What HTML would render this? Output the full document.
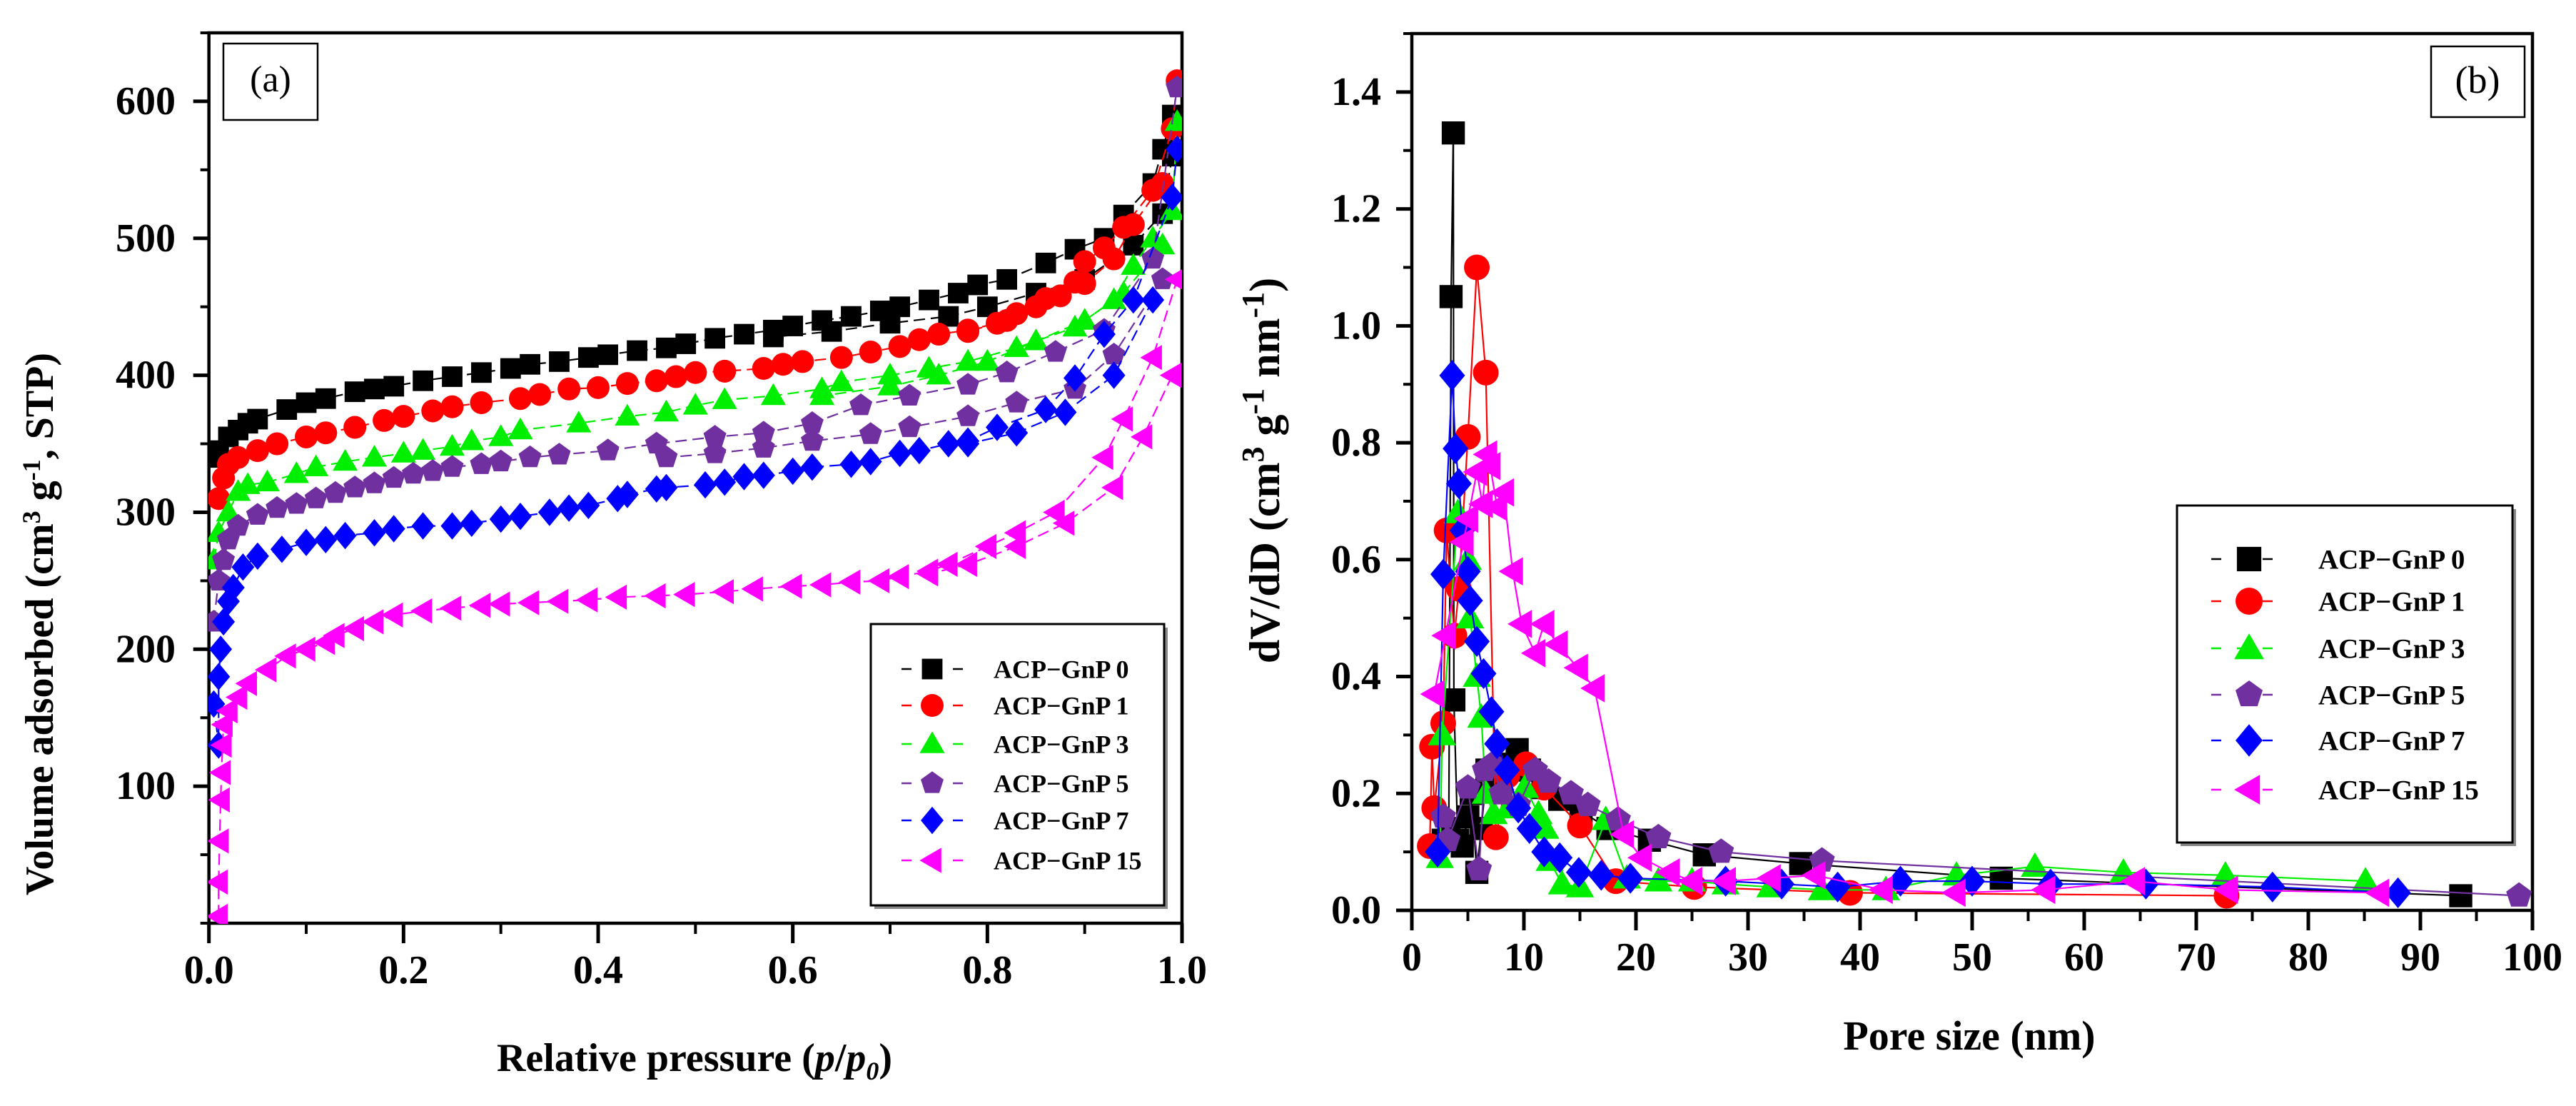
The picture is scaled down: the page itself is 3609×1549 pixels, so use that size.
<!DOCTYPE html>
<html><head><meta charset="utf-8"><style>
html,body{margin:0;padding:0;background:#fff;}
svg{display:block;font-family:"Liberation Serif",serif;}
text{font-family:"Liberation Serif",serif;}
</style></head><body>
<svg id="fig" width="3609" height="1549" viewBox="0 0 3609 1549" xmlns="http://www.w3.org/2000/svg" font-family="Liberation Serif, serif">
<defs>
<clipPath id="clipL"><rect x="292" y="46" width="1364" height="1248"/></clipPath>
<clipPath id="clipR"><rect x="1978" y="46" width="1570" height="1230"/></clipPath>
</defs>
<g id="panelA"></g>
<g id="panelB"></g>
</svg>
<script>
// ---------- Panel (a) data: isotherms [relative pressure, volume] ----------
const a0Ads = [[0.005,340],[0.01,345],[0.02,355],[0.03,360],[0.04,365],[0.05,368],[0.08,375],[0.1,380],[0.12,383],[0.15,388],[0.17,390],[0.19,392],[0.22,396],[0.25,399],[0.28,402],[0.31,405],[0.33,408],[0.36,410],[0.39,413],[0.41,415],[0.44,418],[0.47,420],[0.49,423],[0.52,427],[0.55,430],[0.58,433],[0.6,436],[0.63,440],[0.66,443],[0.69,447],[0.71,450],[0.74,455],[0.77,460],[0.79,466],[0.82,470],[0.86,482],[0.89,492],[0.92,500],[0.94,517],[0.97,540],[0.98,565],[0.99,590]];
const a0Des = [[0.99,560],[0.98,518],[0.95,495],[0.9,470],[0.85,460],[0.8,450],[0.76,443],[0.7,438],[0.64,432],[0.58,428]];
const a1Ads = [[0.01,310],[0.015,325],[0.02,335],[0.03,340],[0.05,345],[0.07,350],[0.1,355],[0.12,358],[0.15,362],[0.18,367],[0.2,370],[0.23,374],[0.25,377],[0.28,380],[0.32,383],[0.34,386],[0.37,390],[0.4,391],[0.43,394],[0.46,396],[0.48,399],[0.5,402],[0.53,403],[0.57,405],[0.59,408],[0.61,410],[0.65,413],[0.68,417],[0.71,421],[0.73,426],[0.75,430],[0.78,433],[0.81,438],[0.83,445],[0.86,456],[0.89,468],[0.9,483],[0.92,493],[0.94,508],[0.97,535],[0.99,580],[0.995,615]];
const a1Des = [[0.98,540],[0.95,510],[0.93,485],[0.9,467],[0.875,458],[0.85,450],[0.82,440],[0.78,432]];
const a3Ads = [[0.005,265],[0.01,285],[0.02,300],[0.03,315],[0.04,320],[0.06,322],[0.09,328],[0.11,333],[0.14,337],[0.17,340],[0.2,343],[0.22,345],[0.25,348],[0.27,352],[0.3,355],[0.32,360],[0.38,365],[0.43,370],[0.47,373],[0.5,378],[0.53,382],[0.58,385],[0.63,390],[0.65,395],[0.7,400],[0.74,405],[0.78,410],[0.83,420],[0.89,435],[0.93,455],[0.95,480],[0.97,500],[0.99,520],[0.995,585]];
const a3Des = [[0.98,495],[0.94,460],[0.9,440],[0.85,425],[0.8,410],[0.75,400],[0.7,392],[0.63,385]];
const a5Ads = [[0.005,220],[0.01,250],[0.015,265],[0.02,280],[0.03,290],[0.05,298],[0.07,303],[0.09,306],[0.11,310],[0.13,314],[0.15,318],[0.17,321],[0.19,325],[0.21,328],[0.23,330],[0.25,333],[0.28,335],[0.3,337],[0.33,340],[0.36,342],[0.41,345],[0.46,350],[0.52,355],[0.57,358],[0.62,365],[0.67,378],[0.72,385],[0.78,393],[0.82,402],[0.87,417],[0.92,433],[0.97,485],[0.995,610]];
const a5Des = [[0.98,470],[0.93,415],[0.89,390],[0.83,380],[0.78,370],[0.72,362],[0.68,357],[0.62,352],[0.57,347],[0.52,343],[0.47,340]];
const a7Ads = [[0.005,160],[0.01,130],[0.01,180],[0.012,200],[0.015,220],[0.02,235],[0.025,245],[0.035,260],[0.05,268],[0.075,273],[0.1,278],[0.12,280],[0.14,283],[0.17,285],[0.19,288],[0.22,290],[0.25,290],[0.27,292],[0.3,295],[0.32,297],[0.35,300],[0.37,303],[0.39,305],[0.42,310],[0.43,313],[0.46,317],[0.47,318],[0.51,320],[0.53,322],[0.55,326],[0.57,327],[0.6,330],[0.62,333],[0.66,335],[0.68,337],[0.71,343],[0.73,345],[0.76,350],[0.78,352],[0.81,362],[0.86,375],[0.89,398],[0.92,430],[0.95,455],[0.99,530],[0.995,565]];
const a7Des = [[0.97,455],[0.93,400],[0.88,373],[0.83,358],[0.78,350]];
const a15Ads = [[0.01,5],[0.01,30],[0.011,60],[0.012,90],[0.013,110],[0.014,130],[0.015,145],[0.02,155],[0.03,165],[0.04,175],[0.06,185],[0.08,195],[0.1,200],[0.12,205],[0.13,210],[0.15,215],[0.17,220],[0.19,225],[0.22,228],[0.25,230],[0.28,232],[0.3,233],[0.33,234],[0.36,235],[0.39,236],[0.42,238],[0.46,239],[0.49,240],[0.53,242],[0.56,244],[0.6,246],[0.63,247],[0.66,249],[0.69,250],[0.71,253],[0.74,257],[0.76,262],[0.8,275],[0.83,285],[0.87,300],[0.92,340],[0.94,368],[0.97,413],[0.995,470]];
const a15Des = [[0.99,400],[0.96,355],[0.93,318],[0.88,292],[0.83,275],[0.78,262],[0.74,255]];
const aXTicks = [0,0.2,0.4,0.6,0.8,1.0];
const aXLabels = ["0.0","0.2","0.4","0.6","0.8","1.0"];
const aYTicks = [100,200,300,400,500,600];

// ---------- Panel (b) data: pore size distribution [nm, dV/dD] ----------
const b0 = [[2.8,0.12],[3.3,0.14],[3.5,1.05],[3.7,1.33],[3.75,0.36],[4.1,0.12],[4.5,0.11],[5.0,0.16],[5.3,0.2],[5.8,0.065],[6.2,0.14],[6.7,0.24],[7.6,0.22],[8.6,0.25],[9.4,0.275],[10.5,0.24],[11.7,0.21],[13.2,0.19],[15.1,0.17],[17.5,0.14],[21.2,0.12],[26.1,0.095],[34.7,0.08],[52.6,0.055],[93.6,0.025]];
const b1 = [[1.6,0.11],[1.8,0.28],[2.0,0.175],[2.8,0.32],[3.1,0.65],[3.8,0.47],[4.2,0.55],[5.0,0.81],[5.8,1.10],[6.6,0.92],[7.5,0.125],[8.5,0.23],[10.2,0.25],[11.8,0.21],[15.0,0.145],[18.2,0.05],[25.2,0.04],[39.1,0.03],[72.7,0.025]];
const b3 = [[2.5,0.09],[2.7,0.3],[4.1,0.68],[5.0,0.6],[5.2,0.5],[5.8,0.4],[6.2,0.33],[6.6,0.2],[7.3,0.165],[8.6,0.175],[10.1,0.21],[11.3,0.165],[11.9,0.14],[12.3,0.085],[13.4,0.045],[15.0,0.04],[17.3,0.155],[19.2,0.055],[22.0,0.05],[25.0,0.05],[28.0,0.045],[32.0,0.04],[36.6,0.035],[42.3,0.035],[48.6,0.06],[55.6,0.075],[63.5,0.065],[72.6,0.06],[85.1,0.05]];
const b5 = [[2.8,0.16],[3.2,0.12],[5.0,0.21],[6.0,0.07],[6.5,0.24],[7.2,0.25],[8.0,0.2],[9.5,0.18],[11.0,0.24],[12.2,0.22],[14.2,0.2],[15.7,0.18],[18.4,0.155],[22.0,0.125],[27.6,0.10],[36.6,0.085],[98.8,0.025]];
const b7 = [[2.3,0.1],[2.8,0.575],[3.6,0.915],[3.9,0.79],[4.2,0.73],[4.5,0.65],[5.0,0.58],[5.2,0.53],[5.8,0.46],[6.4,0.405],[7.1,0.34],[7.6,0.285],[8.5,0.24],[9.5,0.175],[10.5,0.14],[11.8,0.1],[13.2,0.09],[14.9,0.065],[16.9,0.06],[19.5,0.055],[28.0,0.05],[33.0,0.045],[38.0,0.04],[43.6,0.05],[50.0,0.05],[57.0,0.045],[65.5,0.045],[76.8,0.04],[88.0,0.03]];
const b15 = [[2.0,0.37],[3.0,0.47],[4.6,0.63],[5.0,0.67],[5.8,0.75],[6.3,0.695],[6.7,0.78],[7.0,0.76],[7.6,0.69],[8.2,0.715],[9.0,0.58],[9.8,0.49],[11.0,0.44],[11.8,0.49],[13.0,0.455],[14.8,0.415],[16.3,0.38],[18.9,0.13],[20.5,0.09],[23.0,0.065],[25.0,0.05],[28.0,0.05],[32.0,0.055],[36.0,0.06],[42.0,0.035],[48.5,0.03],[56.5,0.035],[64.5,0.05],[72.8,0.035],[86.3,0.03]];
const bXTicks = [0,10,20,30,40,50,60,70,80,90,100];
const bYTicks = [0,0.2,0.4,0.6,0.8,1.0,1.2,1.4];
const bYLabels = ["0.0","0.2","0.4","0.6","0.8","1.0","1.2","1.4"];

const seriesNames = ["ACP−GnP 0","ACP−GnP 1","ACP−GnP 3","ACP−GnP 5","ACP−GnP 7","ACP−GnP 15"];
const colors = ["#000000","#ff0000","#00ee00","#7030a0","#0000ff","#ff00ff"];
const shapes = ["square","circle","tri","pent","diamond","ltri"];

const NS = "http://www.w3.org/2000/svg";
function mk(tag, attrs, parent){const e=document.createElementNS(NS,tag);for(const k in attrs)e.setAttribute(k,attrs[k]);if(parent)parent.appendChild(e);return e;}

const L = {x0:292.7,x1:1656,y0:1293,y1:46,xmin:0,xmax:1,ymin:0,ymax:650};
const R = {x0:1978,x1:3548,y0:1275,y1:47,xmin:0,xmax:100,ymin:0,ymax:1.5};
function ax(A,v){return A.x0+(v-A.xmin)/(A.xmax-A.xmin)*(A.x1-A.x0);}
function ay(A,v){return A.y0-(v-A.ymin)/(A.ymax-A.ymin)*(A.y0-A.y1);}

function marker(parent,shape,cx,cy,r,color){
  let e;
  if(shape==="square") e=mk("rect",{x:cx-r*0.9,y:cy-r*0.9,width:r*1.8,height:r*1.8,fill:color},parent);
  else if(shape==="circle") e=mk("circle",{cx:cx,cy:cy,r:r,fill:color},parent);
  else{
    let pts=[];
    if(shape==="tri") pts=[[0,-r*1.1],[r*1.1,r*0.8],[-r*1.1,r*0.8]];
    else if(shape==="ltri") pts=[[-r*1.1,0],[r*0.8,-r*1.1],[r*0.8,r*1.1]];
    else if(shape==="diamond") pts=[[0,-r*1.2],[r,0],[0,r*1.2],[-r,0]];
    else if(shape==="pent"){for(let i=0;i<5;i++){const a=-Math.PI/2+i*2*Math.PI/5;pts.push([r*1.05*Math.cos(a),r*1.05*Math.sin(a)]);}}
    e=mk("polygon",{points:pts.map(p=>(cx+p[0]).toFixed(1)+","+(cy+p[1]).toFixed(1)).join(" "),fill:color},parent);
  }
  return e;
}

function drawFrame(g,A,xt,xl,yt,yl,xminor,yminor,ylabX){
  const fr=mk("rect",{x:A.x0,y:A.y1,width:A.x1-A.x0,height:A.y0-A.y1,fill:"none",stroke:"#000","stroke-width":4.5},g);
  
  
  xt.forEach((v,i)=>{
    const x=ax(A,v);
    mk("line",{x1:x,y1:A.y0,x2:x,y2:A.y0+28,stroke:"#000","stroke-width":5},g);
    const t=mk("text",{x:x,y:A.y0+84,"text-anchor":"middle","font-size":56,"font-weight":"bold"},g);
    t.textContent=xl[i];
    
    
  });
  xminor.forEach(v=>{const x=ax(A,v);mk("line",{x1:x,y1:A.y0,x2:x,y2:A.y0+15,stroke:"#000","stroke-width":4},g);});
  yt.forEach((v,i)=>{
    const y=ay(A,v);
    mk("line",{x1:A.x0,y1:y,x2:A.x0-22,y2:y,stroke:"#000","stroke-width":5},g);
    const t=mk("text",{x:ylabX,y:y+18,"text-anchor":"end","font-size":56,"font-weight":"bold"},g);
    t.textContent=yl[i];
    
    
  });
  yminor.forEach(v=>{const y=ay(A,v);mk("line",{x1:A.x0,y1:y,x2:A.x0-12,y2:y,stroke:"#000","stroke-width":4},g);});
}

function drawLine(g,A,pts,color,dash){
  const d=pts.map((p,i)=>(i?"L":"M")+ax(A,p[0]).toFixed(1)+","+ay(A,p[1]).toFixed(1)).join(" ");
  const e=mk("path",{d:d,fill:"none",stroke:color,"stroke-width":2.2},g);
  if(dash) e.setAttribute("stroke-dasharray","16,8");
  return e;
}

function legend(g,x,y,w,h,rows,lineX1,lineX2,mX,textX,fs,r){
  const lg=mk("g",{},g);
  
  
  mk("rect",{x:x+5,y:y+5,width:w,height:h,fill:"#888"},lg);
  mk("rect",{x:x,y:y,width:w,height:h,fill:"#fff",stroke:"#000","stroke-width":3},lg);
  rows.forEach((ry,i)=>{
    const ent=mk("g",{},lg);
    
    
    mk("line",{x1:lineX1,y1:ry,x2:lineX2,y2:ry,stroke:colors[i],"stroke-width":2.5,"stroke-dasharray":"14,22"},ent);
    marker(ent,shapes[i],mX,ry,r,colors[i]);
    const t=mk("text",{x:textX,y:ry+fs*0.35,"font-size":fs,"font-weight":"bold"},ent);
    t.textContent=seriesNames[i];
  });
}

// ---- Panel A ----
const gA=document.getElementById("panelA");
drawFrame(gA,L,aXTicks,aXLabels,aYTicks,aYTicks.map(String),[0.1,0.3,0.5,0.7,0.9],[0,50,150,250,350,450,550,650],246);
const aAds=[a0Ads,a1Ads,a3Ads,a5Ads,a7Ads,a15Ads];
const aDes=[a0Des,a1Des,a3Des,a5Des,a7Des,a15Des];
for(let s=0;s<6;s++){
  const sg=mk("g",{"clip-path":"url(#clipL)"},gA);
  
  
  drawLine(sg,L,aAds[s],colors[s],true);
  drawLine(sg,L,aDes[s],colors[s],true);
  aAds[s].concat(aDes[s]).forEach(p=>{marker(sg,shapes[s],ax(L,p[0]),ay(L,p[1]),16,colors[s]);});
}
legend(gA,1220,874,411,394,[937,988,1042,1097,1149,1205],1263,1349,1306,1392,36,16);
const boxA=mk("rect",{x:313,y:61,width:132,height:107,fill:"#fff",stroke:"#000","stroke-width":2.5},gA);


const tA=mk("text",{x:379,y:128,"text-anchor":"middle","font-size":52},gA);
tA.textContent="(a)";


const ylA=mk("text",{transform:"translate(74,874) rotate(-90)","text-anchor":"middle","font-size":56,"font-weight":"bold"},gA);
ylA.innerHTML='Volume adsorbed (cm<tspan dy="-18" font-size="36">3</tspan><tspan dy="18"> g</tspan><tspan dy="-18" font-size="36">-1</tspan><tspan dy="18">, STP)</tspan>';


const xlA=mk("text",{x:973,y:1500,"text-anchor":"middle","font-size":56,"font-weight":"bold"},gA);
xlA.innerHTML='Relative pressure (<tspan font-style="italic">p</tspan>/<tspan font-style="italic">p</tspan><tspan font-style="italic" font-size="36" dy="12">0</tspan><tspan dy="-12">)</tspan>';



// ---- Panel B ----
const gB=document.getElementById("panelB");
drawFrame(gB,R,bXTicks,bXTicks.map(String),bYTicks,bYLabels,[5,15,25,35,45,55,65,75,85,95],[0.1,0.3,0.5,0.7,0.9,1.1,1.3,1.5],1935);
const bSeries=[b0,b1,b3,b5,b7,b15];
for(let s=0;s<6;s++){
  const sg=mk("g",{"clip-path":"url(#clipR)"},gB);
  
  
  drawLine(sg,R,bSeries[s],colors[s],false);
  bSeries[s].forEach(p=>{marker(sg,shapes[s],ax(R,p[0]),ay(R,p[1]),18,colors[s]);});
}
legend(gB,3050,708,470,472,[783,842,908,973,1037,1106],3098,3201,3151,3248,39,19);
const boxB=mk("rect",{x:3406,y:65,width:131,height:99,fill:"#fff",stroke:"#000","stroke-width":2.5},gB);


const tB=mk("text",{x:3471,y:130,"text-anchor":"middle","font-size":54},gB);
tB.textContent="(b)";


const ylB=mk("text",{transform:"translate(1792,659) rotate(-90)","text-anchor":"middle","font-size":60,"font-weight":"bold"},gB);
ylB.innerHTML='dV/dD (cm<tspan dy="-22" font-size="44">3</tspan><tspan dy="22"> g</tspan><tspan dy="-22" font-size="44">-1</tspan><tspan dy="22"> nm</tspan><tspan dy="-22" font-size="44">-1</tspan><tspan dy="22">)</tspan>';


const xlB=mk("text",{x:2759,y:1470,"text-anchor":"middle","font-size":58,"font-weight":"bold"},gB);
xlB.textContent="Pore size (nm)";


</script>
</body></html>
